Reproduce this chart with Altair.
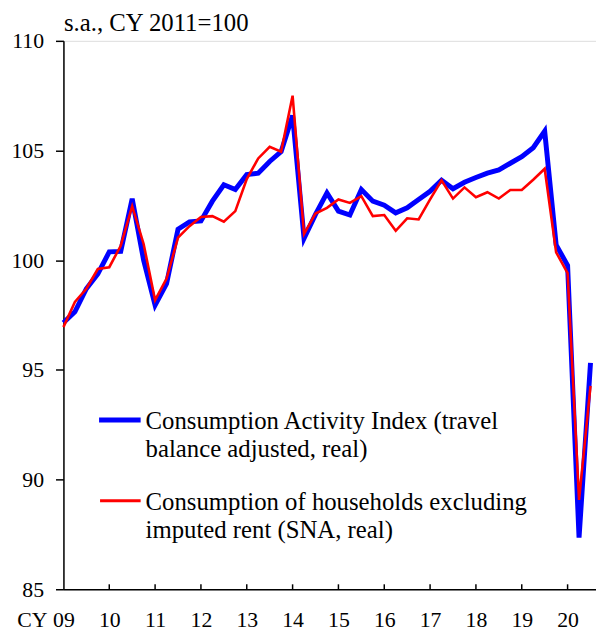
import altair as alt
import pandas as pd

# Quarterly periods 2009Q1 .. 2020Q3
quarters = [f"{y}Q{q}" for y in range(2009, 2021) for q in range(1, 5)][:47]

activity_index = [
    97.15, 97.65, 98.7, 99.38, 100.38, 100.4, 102.8, 100.0,
    97.95, 98.93, 101.41, 101.75, 101.79, 102.69, 103.44, 103.22,
    103.9, 103.97, 104.5, 104.95, 106.6, 101.0, 102.09, 103.07,
    102.24, 102.06, 103.22, 102.69, 102.51, 102.16, 102.39, 102.77,
    103.14, 103.65, 103.26, 103.55, 103.77, 103.97, 104.12, 104.42,
    104.72, 105.13, 105.88, 100.7, 99.76, 87.35, 95.32,
]

household_consumption = [
    96.95, 98.1, 98.7, 99.6, 99.68, 100.66, 102.46, 100.74,
    98.18, 99.16, 101.03, 101.55, 101.97, 102.01, 101.76, 102.24,
    103.7, 104.64, 105.17, 104.95, 107.5, 101.2, 102.13, 102.39,
    102.77, 102.61, 102.92, 102.01, 102.06, 101.34, 101.91, 101.86,
    102.77, 103.64, 102.81, 103.32, 102.87, 103.1, 102.81, 103.2,
    103.2, 103.67, 104.17, 100.36, 99.41, 89.07, 94.27,
]

tick_years = list(range(2009, 2021))
y_ticks = [85, 90, 95, 100, 105, 110]

legend_blue = ["Consumption Activity Index (travel", "balance adjusted, real)"]
legend_red = ["Consumption of households excluding", "imputed rent (SNA, real)"]

FONT = "Liberation Serif"
FS = 22
LFS = 25

def to_t(q):
    return int(q[:4]) + (int(q[-1]) - 1) / 4

df_blue = pd.DataFrame({"t": [to_t(q) for q in quarters], "v": activity_index})
df_red = pd.DataFrame({"t": [to_t(q) for q in quarters], "v": household_consumption})
df_ticks = pd.DataFrame({"year": tick_years[1:]})

W, H = 538, 554
LP = 21
xscale = alt.Scale(domain=[2009, 2009 + W / 46.3], nice=False, zero=False)
yscale = alt.Scale(domain=[85, 110], nice=False, zero=False)

x_axis = alt.Axis(
    values=tick_years, labelExpr="slice(toString(datum.value), 2)",
    ticks=False, tickSize=0, grid=False, domainColor="black", domainWidth=1.5,
    labelFont=FONT, labelFontSize=FS, labelColor="black", labelPadding=LP,
    labelBaseline="top", labelFlush=False, labelOverlap=False, title=None,
)
y_axis = alt.Axis(
    values=y_ticks, tickSize=8, tickColor="black", tickWidth=1.5, grid=False,
    domainColor="black", domainWidth=1.5, labelFont=FONT, labelFontSize=FS,
    labelColor="black", labelPadding=12, labelFlush=False, labelOverlap=False,
    title="s.a., CY 2011=100",
    titleAngle=0, titleAlign="left", titleBaseline="alphabetic", titleX=0,
    titleY=-10, titleFont=FONT, titleFontSize=LFS, titleFontWeight="normal",
    titleColor="black",
)

blue = alt.Chart(df_blue).mark_line(color="#0000FF", strokeWidth=5).encode(
    x=alt.X("t:Q", scale=xscale, axis=x_axis),
    y=alt.Y("v:Q", scale=yscale, axis=y_axis),
)
red = alt.Chart(df_red).mark_line(color="#FF0000", strokeWidth=2.6).encode(
    x=alt.X("t:Q", scale=xscale),
    y=alt.Y("v:Q", scale=yscale),
)

xticks = alt.Chart(df_ticks).mark_rule(color="black", strokeWidth=1.5).encode(
    x=alt.X("year:Q", scale=xscale),
    y=alt.value(H),
    y2=alt.value(H - 5),
)

cy = alt.Chart(pd.DataFrame({"a": [0]})).mark_text(
    text="CY", align="right", baseline="top", font=FONT, fontSize=FS,
    color="black", dx=-16, dy=LP, clip=False,
).encode(x=alt.datum(2009, scale=xscale), y=alt.datum(85, scale=yscale))

def txt(s, x, y):
    return alt.Chart(pd.DataFrame({"a": [0]})).mark_text(
        align="left", baseline="middle", font=FONT, fontSize=LFS, color="black"
    ).encode(x=alt.value(x), y=alt.value(y), text=alt.value(s))

leg_blue = alt.Chart(pd.DataFrame({"a": [0]})).mark_rule(
    color="#0000FF", strokeWidth=5).encode(x=alt.value(36), x2=alt.value(78), y=alt.value(383))
leg_red = alt.Chart(pd.DataFrame({"a": [0]})).mark_rule(
    color="#FF0000", strokeWidth=3).encode(x=alt.value(37), x2=alt.value(78), y=alt.value(464.5))

layers = [blue, red, xticks, cy, leg_blue, leg_red,
          txt(legend_blue[0], 83, 384), txt(legend_blue[1], 83, 412.5),
          txt(legend_red[0], 83, 465.5), txt(legend_red[1], 83, 494)]

chart = alt.layer(*layers).properties(
    width=W, height=H,
    padding={"left": 56, "top": 30, "right": 0, "bottom": 40},
    autosize=alt.AutoSizeParams(type="none"),
).configure_view(stroke=None).configure(background="white")

chart.save("out.html", embed_options={"renderer": "svg", "actions": False})
